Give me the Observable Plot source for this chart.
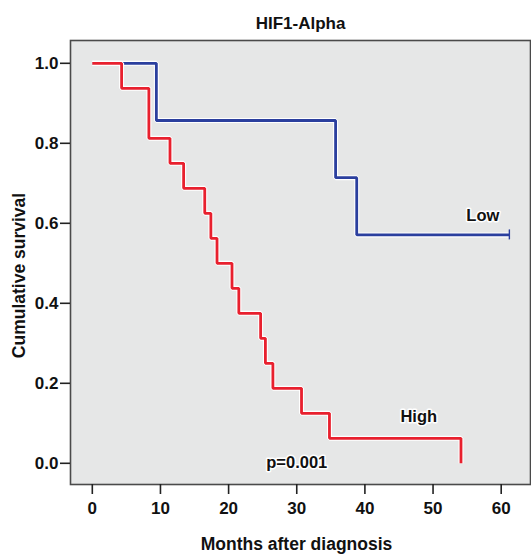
<!DOCTYPE html>
<html>
<head>
<meta charset="utf-8">
<script src="https://cdn.jsdelivr.net/npm/d3@7"></script>
<script src="https://cdn.jsdelivr.net/npm/@observablehq/plot@0.6"></script>
<style>
  html, body { margin: 0; padding: 0; background: white; }
</style>
</head>
<body>
<div id="chart"></div>
<script>
const title = "HIF1-Alpha";
const xLabel = "Months after diagnosis";
const yLabel = "Cumulative survival";
const xTicks = [0, 10, 20, 30, 40, 50, 60];
const yTicks = [0, 0.2, 0.4, 0.6, 0.8, 1.0];

const lowTimes = [0, 9.4, 35.7, 38.8, 61.2];
const lowSurv  = [1, 0.857, 0.714, 0.571, 0.571];

const highTimes = [0, 4.3, 8.3, 11.4, 13.4, 16.5, 17.4, 18.3, 20.5, 21.5, 24.7, 25.4, 26.5, 30.7, 34.8, 54.1];
const highSurv  = [1, 0.9375, 0.8125, 0.75, 0.6875, 0.625, 0.5625, 0.5, 0.4375, 0.375, 0.3125, 0.25, 0.1875, 0.125, 0.0625, 0];

const censorTimes = [61.2];
const censorSurv = [0.571];

const labels = [
  {text: "Low", t: 57.3, s: 0.607},
  {text: "High", t: 47.9, s: 0.104},
  {text: "p=0.001", t: 30, s: -0.011}
];

const low = lowTimes.map((t, i) => ({t, s: lowSurv[i]}));
const high = highTimes.map((t, i) => ({t, s: highSurv[i]}));
const censor = censorTimes.map((t, i) => ({t, s: censorSurv[i]}));

const blue = "#2b3f9e";
const red = "#e8202e";

const chart = Plot.plot({
  width: 531,
  height: 554,
  marginTop: 40,
  marginLeft: 70,
  marginRight: 1,
  marginBottom: 70,
  style: {fontFamily: "'Liberation Sans', Arial, sans-serif", fontSize: "17px", fontWeight: "bold", background: "white", color: "#111"},
  x: {domain: [-3.2, 64.3], ticks: xTicks, label: null},
  y: {domain: [-0.053, 1.057], ticks: yTicks, label: null, tickFormat: d3.format(".1f")},
  marks: [
    Plot.frame({fill: "#e6e7e7", stroke: "#4a4a4a", strokeWidth: 1.6}),
    Plot.axisX({ticks: xTicks, tickSize: 10, tickPadding: 7, stroke: "#222", strokeWidth: 1.6, label: null}),
    Plot.axisY({ticks: yTicks, tickSize: 10, tickPadding: 2, stroke: "#222", strokeWidth: 1.6, tickFormat: d3.format(".1f"), label: null}),
    Plot.line(low, {x: "t", y: "s", curve: "step-after", stroke: "white", strokeWidth: 5, strokeLinecap: "butt", strokeLinejoin: "miter"}),
    Plot.line(low, {x: "t", y: "s", curve: "step-after", stroke: blue, strokeWidth: 2.8, strokeLinecap: "butt", strokeLinejoin: "miter"}),
    Plot.ruleX(censor, {x: "t", y1: "s", y2: "s", insetTop: -5, insetBottom: -5, stroke: blue, strokeWidth: 1.4}),
    Plot.line(high, {x: "t", y: "s", curve: "step-after", stroke: "white", strokeWidth: 5, strokeLinecap: "butt", strokeLinejoin: "miter"}),
    Plot.line(high, {x: "t", y: "s", curve: "step-after", stroke: red, strokeWidth: 2.8, strokeLinecap: "butt", strokeLinejoin: "miter"}),
    Plot.text(labels, {x: "t", y: "s", text: "text", lineAnchor: "bottom", fontSize: 16.5, fontWeight: "bold", fill: "#111", stroke: "white", strokeWidth: 3}),
    Plot.text([title], {frameAnchor: "top", dy: -12, lineAnchor: "bottom", fontSize: 17, fontWeight: "bold", fill: "#111"}),
    Plot.text([xLabel], {frameAnchor: "bottom", dx: -4, dy: 65, lineAnchor: "bottom", fontSize: 17.5, fontWeight: "bold", fill: "#111"}),
    Plot.text([yLabel], {frameAnchor: "left", dx: -51, dy: 13, rotate: -90, textAnchor: "middle", lineAnchor: "middle", fontSize: 17.5, fontWeight: "bold", fill: "#111"})
  ]
});
document.getElementById("chart").appendChild(chart);
</script>
</body>
</html>
